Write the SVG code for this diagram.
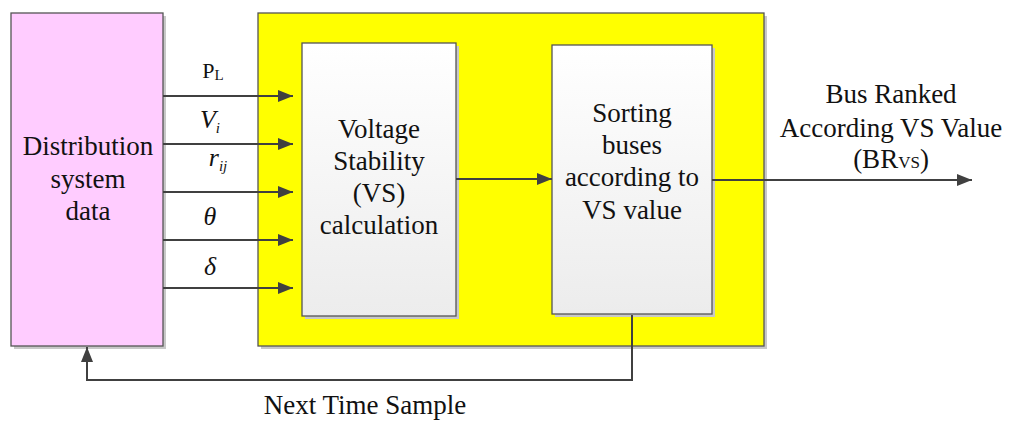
<svg xmlns="http://www.w3.org/2000/svg" width="1014" height="421" viewBox="0 0 1014 421">
  <defs>
    <linearGradient id="boxFill" x1="0" y1="0" x2="0" y2="1">
      <stop offset="0" stop-color="#ffffff"/>
      <stop offset="1" stop-color="#ececec"/>
    </linearGradient>
    <marker id="arrow" viewBox="0 0 15 12" refX="15" refY="6" markerWidth="15" markerHeight="12" markerUnits="userSpaceOnUse" orient="auto">
      <path d="M0,0 L15,6 L0,12 Z" fill="#404040"/>
    </marker>
  </defs>
  <style>
    .shadow { fill: #c8c8c8; }
    .frame { stroke: #555555; stroke-width: 1.3; }
    .wire { stroke: #404040; stroke-width: 2; fill: none; }
  </style>
  <rect width="1014" height="421" fill="#ffffff"/>

  <!-- data source -->
  <g id="distribution">
    <rect class="shadow" x="14" y="16" width="152" height="333"/>
    <rect class="frame" x="11" y="13" width="152" height="333" fill="#ffccff"/>
    <g font-family="Liberation Serif, serif" font-size="27" fill="#111111" text-anchor="middle">
      <text x="88" y="155">Distribution</text>
      <text x="88" y="188">system</text>
      <text x="88" y="220">data</text>
    </g>
  </g>

  <!-- processing block -->
  <g id="processing">
    <rect class="shadow" x="261" y="16" width="506" height="333"/>
    <rect class="frame" x="258" y="13" width="506" height="333" fill="#ffff00"/>
  </g>

  <g id="vs-calc">
    <rect class="shadow" x="305" y="46" width="154" height="273"/>
    <rect class="frame" x="302" y="43" width="154" height="273" fill="url(#boxFill)"/>
    <g font-family="Liberation Serif, serif" font-size="27" fill="#111111" text-anchor="middle">
      <text x="379" y="138">Voltage</text>
      <text x="379" y="170">Stability</text>
      <text x="379" y="202">(VS)</text>
      <text x="379" y="234">calculation</text>
    </g>
  </g>

  <g id="sorting">
    <rect class="shadow" x="555" y="48" width="160" height="269"/>
    <rect class="frame" x="552" y="45" width="160" height="269" fill="url(#boxFill)"/>
    <g font-family="Liberation Serif, serif" font-size="27" fill="#111111" text-anchor="middle">
      <text x="632" y="122">Sorting</text>
      <text x="632" y="154">buses</text>
      <text x="632" y="186">according to</text>
      <text x="632" y="219">VS value</text>
    </g>
  </g>

  <!-- connectors -->
  <g id="connectors">
    <line class="wire" x1="163" y1="96" x2="293" y2="96" marker-end="url(#arrow)"/>
    <line class="wire" x1="163" y1="144" x2="293" y2="144" marker-end="url(#arrow)"/>
    <line class="wire" x1="163" y1="192" x2="293" y2="192" marker-end="url(#arrow)"/>
    <line class="wire" x1="163" y1="240" x2="293" y2="240" marker-end="url(#arrow)"/>
    <line class="wire" x1="163" y1="288" x2="293" y2="288" marker-end="url(#arrow)"/>
    <line class="wire" x1="456" y1="179" x2="552" y2="179" marker-end="url(#arrow)"/>
    <line class="wire" x1="712" y1="180" x2="972" y2="180" marker-end="url(#arrow)"/>
    <polyline class="wire" points="632,315 632,380 87,380 87,347" marker-end="url(#arrow)"/>
  </g>

  <!-- signal labels -->
  <g id="signal-labels" font-family="Liberation Serif, serif" font-size="26" fill="#111111" text-anchor="middle">
    <text x="213" y="78" font-size="22">P<tspan font-size="15" dy="2">L</tspan></text>
    <text x="210" y="128" font-style="italic">V<tspan font-size="15" dy="5">i</tspan></text>
    <text x="218" y="166" font-style="italic">r<tspan font-size="15" dy="5">ij</tspan></text>
    <text x="210" y="225" font-style="italic">θ</text>
    <text x="210" y="275" font-style="italic">δ</text>
  </g>

  <!-- output and feedback labels -->
  <g id="output-label" font-family="Liberation Serif, serif" font-size="27" fill="#111111" text-anchor="middle">
    <text x="891" y="103">Bus Ranked</text>
    <text x="891" y="137">According VS Value</text>
    <text x="891" y="168">(BR<tspan font-size="17">VS</tspan>)</text>
  </g>
  <g id="feedback-label" font-family="Liberation Serif, serif" font-size="27" fill="#111111" text-anchor="middle">
    <text x="365" y="414">Next Time Sample</text>
  </g>
</svg>
